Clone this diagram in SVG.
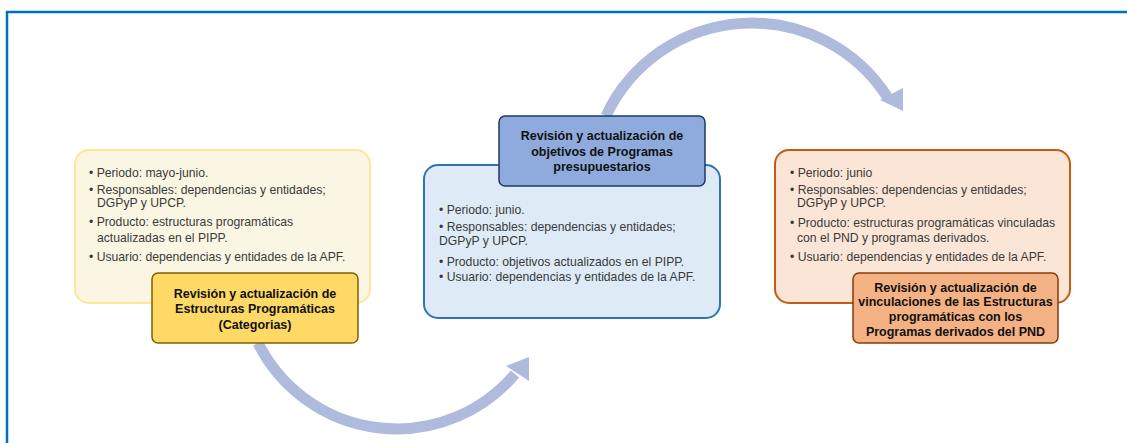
<svg xmlns="http://www.w3.org/2000/svg" width="1127" height="443" viewBox="0 0 1127 443">
<style>
.body{font-family:"Liberation Sans",Arial,sans-serif;font-size:12.2px;fill:#3a3a3a}
.title{font-family:"Liberation Sans",Arial,sans-serif;font-size:12.5px;font-weight:bold;fill:#111;text-anchor:middle}
.arc{fill:none;stroke:#AFBBDD;stroke-width:11}
.head{fill:#AFBBDD}
</style>
<rect width="1127" height="443" fill="#fff"/>
<path d="M7 443 V12 H1127" fill="none" stroke="#0070C0" stroke-width="2.5"/>
<g id="connectors">
<path class="arc" d="M258 343 A155 155 0 0 0 515 374"/>
<polygon class="head" points="506,366 529,357 529,381"/>
<path class="arc" d="M606 116 A161 161 0 0 1 888 98"/>
<polygon class="head" points="880,100 903,88 903,111"/>
</g>
<g id="node-left">
<rect x="75" y="150" width="295" height="153" rx="14" fill="#FBF6E4" stroke="#FFE699" stroke-width="2"/>
<text class="body"><tspan x="89" y="177">• Periodo: mayo-junio.</tspan><tspan x="89" y="194">• Responsables: dependencias y entidades;</tspan><tspan x="97" y="207">DGPyP y UPCP.</tspan><tspan x="89" y="226">• Producto: estructuras programáticas</tspan><tspan x="97" y="242">actualizadas en el PIPP.</tspan><tspan x="89" y="261">• Usuario: dependencias y entidades de la APF.</tspan></text>
<rect x="152" y="273" width="206" height="70" rx="6" fill="#FFD966" stroke="#7F6000" stroke-width="1.5"/>
<text class="title"><tspan x="255" y="298">Revisión y actualización de</tspan><tspan x="255" y="313">Estructuras Programáticas</tspan><tspan x="255" y="329">(Categorias)</tspan></text>
</g>
<g id="node-middle">
<rect x="424" y="165" width="296" height="153" rx="14" fill="#DEEBF7" stroke="#2E75B6" stroke-width="2"/>
<text class="body"><tspan x="439" y="214">• Periodo: junio.</tspan><tspan x="439" y="231">• Responsables: dependencias y entidades;</tspan><tspan x="439" y="245">DGPyP y UPCP.</tspan><tspan x="439" y="266">• Producto: objetivos actualizados en el PIPP.</tspan><tspan x="439" y="281">• Usuario: dependencias y entidades de la APF.</tspan></text>
<rect x="499" y="116" width="206" height="70" rx="6" fill="#8FAADC" stroke="#203864" stroke-width="1.5"/>
<text class="title"><tspan x="602" y="140">Revisión y actualización de</tspan><tspan x="602" y="156">objetivos de Programas</tspan><tspan x="602" y="171">presupuestarios</tspan></text>
</g>
<g id="node-right">
<rect x="775" y="150" width="295" height="153" rx="14" fill="#FBE5D6" stroke="#C55A11" stroke-width="2"/>
<text class="body"><tspan x="790" y="177">• Periodo: junio</tspan><tspan x="790" y="194">• Responsables: dependencias y entidades;</tspan><tspan x="797" y="207">DGPyP y UPCP.</tspan><tspan x="790" y="227">• Producto: estructuras programáticas vinculadas</tspan><tspan x="797" y="242">con el PND y programas derivados.</tspan><tspan x="790" y="261">• Usuario: dependencias y entidades de la APF.</tspan></text>
<rect x="853" y="273" width="205" height="70" rx="6" fill="#F4B183" stroke="#843C0C" stroke-width="1.5"/>
<text class="title"><tspan x="955.5" y="292">Revisión y actualización de</tspan><tspan x="955.5" y="306">vinculaciones de las Estructuras</tspan><tspan x="955.5" y="321">programáticas con los</tspan><tspan x="955.5" y="336">Programas derivados del PND</tspan></text>
</g>
</svg>
